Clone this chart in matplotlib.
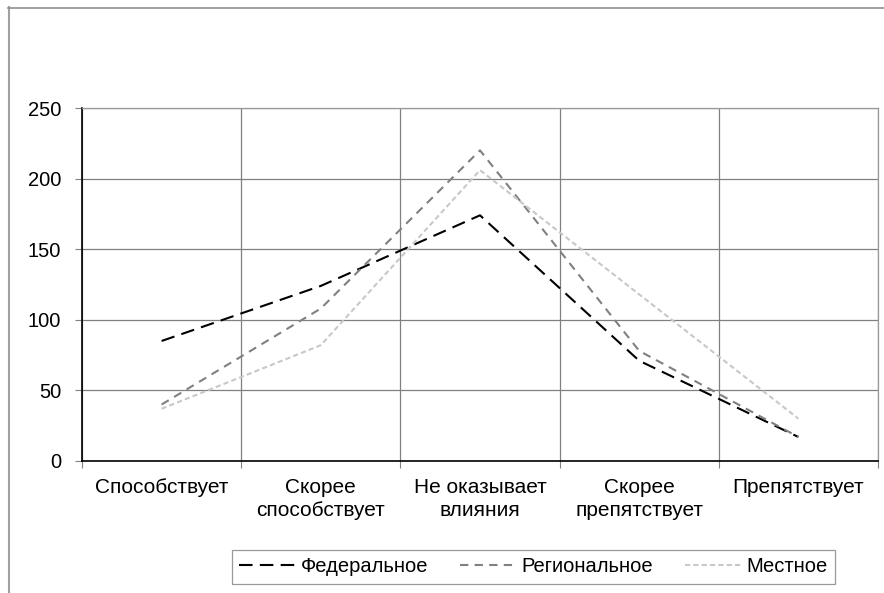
import matplotlib.pyplot as plt
from matplotlib.lines import Line2D

plt.rcParams['font.family'] = ['Liberation Sans', 'DejaVu Sans']

categories = ['Способствует', 'Скорее\nспособствует', 'Не оказывает\nвлияния',
              'Скорее\nпрепятствует', 'Препятствует']
federal = [85, 124, 174, 71, 17]
regional = [40, 108, 220, 78, 17]
local = [37, 82, 206, 118, 30]
series_names = ['Федеральное', 'Региональное', 'Местное']
yticks = [0, 50, 100, 150, 200, 250]

W, H = 884, 593
fig = plt.figure(figsize=(W / 100, H / 100), dpi=100)
ax = fig.add_axes([82 / W, 1 - 461 / H, (878 - 82) / W, (461 - 108) / H])

x = list(range(len(categories)))
ax.plot(x, federal, color='black', lw=1.5, dashes=(6.5, 3.5), label=series_names[0])
ax.plot(x, regional, color='#808080', lw=1.5, dashes=(4, 3), label=series_names[1])
ax.plot(x, local, color='#c8c8c8', lw=1.5, dashes=(2.5, 1.5), label=series_names[2])

ax.set_xlim(-0.5, len(categories) - 0.5)
ax.set_ylim(0, 250)
ax.set_yticks(yticks)
ax.set_xticks([i - 0.5 for i in range(len(categories) + 1)])
ax.set_xticklabels([])
ax.set_xticks(x, minor=True)
ax.set_xticklabels(categories, minor=True, fontsize=15, linespacing=1.3)
ax.tick_params(axis='x', which='minor', length=0, pad=12)
ax.tick_params(axis='x', which='major', length=5, color='#808080', direction='out')
ax.tick_params(axis='y', length=5, color='#808080', labelsize=14.5, pad=10)
ax.grid(True, color='#808080', lw=0.9)
ax.set_axisbelow(True)

for side in ['top', 'right']:
    ax.spines[side].set_color('#999999')
    ax.spines[side].set_linewidth(0.9)
ax.spines['right'].set_linestyle((0, (1, 1)))
for side in ['left', 'bottom']:
    ax.spines[side].set_color('black')
    ax.spines[side].set_linewidth(1.2)

# outer chart frame
fig.add_artist(Line2D([8.5 / W, 8.5 / W], [0, 1 - 7 / H], color='#a0a0a0', lw=1.5))
fig.add_artist(Line2D([8 / W, 1], [1 - 7.5 / H, 1 - 7.5 / H], color='#909090', lw=1.2))

leg = fig.legend(loc='center', bbox_to_anchor=(533.5 / W, 1 - 567 / H), ncol=3,
                 fontsize=14.5, frameon=True, fancybox=False, edgecolor='#808080',
                 handlelength=2.8, handletextpad=0.25, columnspacing=1.6,
                 borderpad=0.35, borderaxespad=0)
leg.get_frame().set_linewidth(0.9)

fig.savefig('out.png', dpi=100)
